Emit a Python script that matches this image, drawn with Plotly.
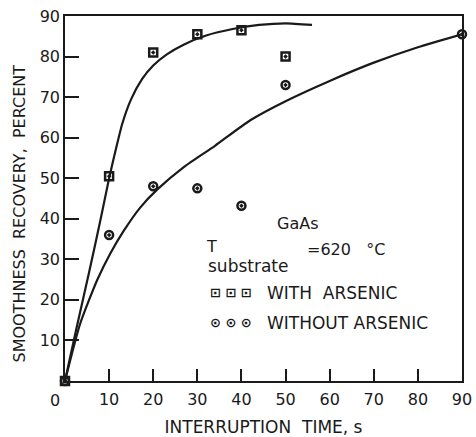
import plotly.graph_objects as go

# ---- data ----
with_t = [0, 10, 20, 30, 40, 50]
with_v = [0, 50.5, 81, 85.5, 86.5, 80]

without_t = [0, 10, 20, 30, 40, 50, 90]
without_v = [0, 36, 48, 47.5, 43.2, 73, 85.5]

# hand-drawn guide curves
curve_with_t = [0, 2.6, 5.5, 8, 10, 11.5, 13, 15, 17.5, 20, 23, 27, 32, 38, 44, 50, 56]
curve_with_v = [0, 13, 27, 39.5, 50, 57, 63.5, 69.5, 74.5, 77.8, 80.5, 83, 85.2, 86.8, 87.8, 88.2, 87.8]

curve_without_t = [0, 3.4, 7.3, 10.3, 13.3, 17, 21, 27, 34, 42, 50, 60, 70, 80, 90]
curve_without_v = [0, 14, 24.9, 31.5, 37, 42.7, 47.3, 52.8, 58, 64.3, 69, 74, 78.5, 82.3, 85.5]

x_ticks = [10, 20, 30, 40, 50, 60, 70, 80, 90]
y_ticks = [10, 20, 30, 40, 50, 60, 70, 80, 90]

FONT = "DejaVu Sans"
INK = "#1a1a1a"

fig = go.Figure()
for cx, cy in ((curve_with_t, curve_with_v), (curve_without_t, curve_without_v)):
    fig.add_trace(go.Scatter(x=cx, y=cy, mode="lines",
                             line=dict(color=INK, width=2.2, shape="spline", smoothing=0.6),
                             hoverinfo="skip", cliponaxis=False))
fig.add_trace(go.Scatter(x=with_t, y=with_v, mode="markers", name="WITH ARSENIC",
                         marker=dict(symbol="square-open-dot", size=8, color=INK,
                                     line=dict(width=2.5, color=INK)),
                         cliponaxis=False))
fig.add_trace(go.Scatter(x=without_t, y=without_v, mode="markers", name="WITHOUT ARSENIC",
                         marker=dict(symbol="circle-open-dot", size=8, color=INK,
                                     line=dict(width=2.5, color=INK)),
                         cliponaxis=False))

fig.update_layout(
    width=476, height=437,
    margin=dict(l=65, r=14, t=16, b=56),
    paper_bgcolor="white", plot_bgcolor="white",
    showlegend=False,
    font=dict(family=FONT, color=INK, size=16),
)
fig.update_xaxes(range=[0, 90], tickvals=x_ticks, ticks="inside", ticklen=12, tickwidth=1.5,
                 tickcolor=INK, showgrid=False, zeroline=False, showline=True, linecolor=INK,
                 linewidth=1.5, mirror=True, tickfont=dict(size=16), ticklabelstandoff=3,
                 automargin=False,
                 title=dict(text="INTERRUPTION  TIME, s", font=dict(size=17), standoff=16))
fig.update_yaxes(range=[0, 90], tickvals=y_ticks, ticks="inside", ticklen=14, tickwidth=1.5,
                 tickcolor=INK, showgrid=False, zeroline=False, showline=True, linecolor=INK,
                 linewidth=1.5, mirror=True, tickfont=dict(size=16), automargin=False,
                 title=dict(text="SMOOTHNESS  RECOVERY,  PERCENT" + "&nbsp;" * 6,
                            font=dict(size=16), standoff=10))

# x "0" label offset left of the corner, as in the reference
fig.add_annotation(x=0, y=0, xref="x", yref="y", text="0", showarrow=False,
                   xshift=-10, yshift=-19, font=dict(size=16))

fig.add_annotation(x=52.8, y=38.8, xref="x", yref="y", text="GaAs", showarrow=False,
                   font=dict(size=16))
fig.add_annotation(x=31.4, y=33.2, xref="x", yref="y", xanchor="left",
                   text="T", showarrow=False, font=dict(size=16))
fig.add_annotation(x=32.0, y=28.3, xref="x", yref="y", xanchor="left",
                   text="substrate", showarrow=False, font=dict(size=17))
fig.add_annotation(x=54.4, y=32.4, xref="x", yref="y", xanchor="left",
                   text="=620&nbsp;&nbsp;&nbsp;°C", showarrow=False, font=dict(size=16))

fig.add_annotation(x=37.7, y=21.7, xref="x", yref="y",
                   text="<b>⊡&nbsp;⊡&nbsp;⊡</b>", showarrow=False, font=dict(size=13))
fig.add_annotation(x=45.3, y=21.7, xref="x", yref="y", xanchor="left",
                   text="WITH  ARSENIC", showarrow=False, font=dict(size=17))
fig.add_annotation(x=37.7, y=14.4, xref="x", yref="y",
                   text="<b>⊙&nbsp;⊙&nbsp;⊙</b>", showarrow=False, font=dict(size=13))
fig.add_annotation(x=45.3, y=14.4, xref="x", yref="y", xanchor="left",
                   text="WITHOUT ARSENIC", showarrow=False, font=dict(size=17))

fig.write_html("out.html")
